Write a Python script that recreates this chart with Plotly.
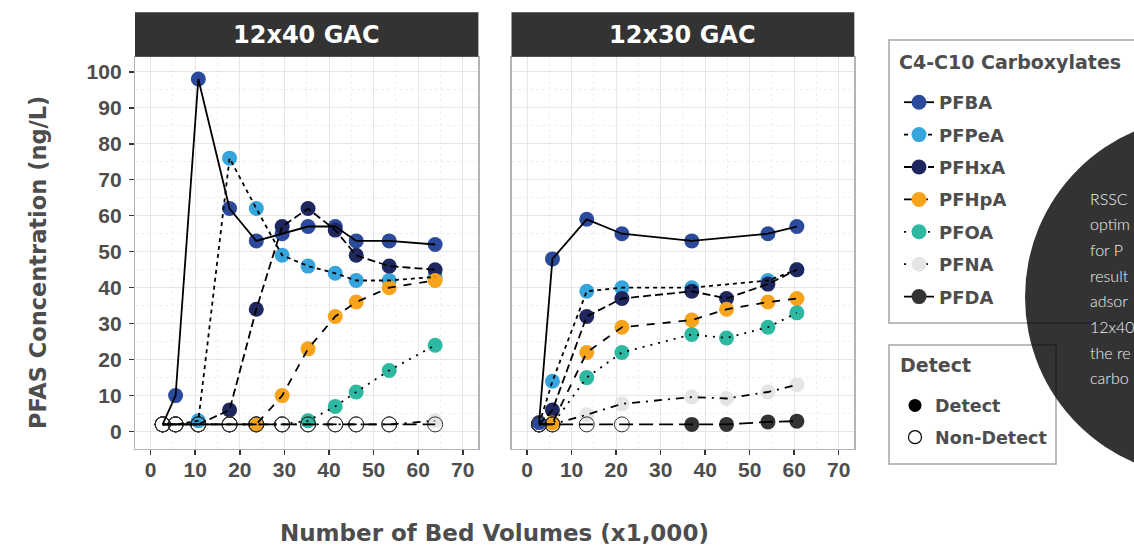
import plotly.graph_objects as go

W, H = 1134, 546

# ---------------- data ----------------
compounds = ["PFBA", "PFPeA", "PFHxA", "PFHpA", "PFOA", "PFNA", "PFDA"]
colors = ["#2C4A9C", "#35A5DC", "#1F275F", "#F7A31C", "#2CB8A1", "#E5E5E5", "#333333"]
dashes = ["solid", "4px,4px", "8px,4px", "8px,8px", "2px,6px", "2px,6px,8px,6px", "14px,6px"]

ND = "ND"            # non-detect
ND_PLOT_VALUE = 2    # value at which non-detects are plotted

panels = ["12x40 GAC", "12x30 GAC"]

bv_12x40 = [2.7, 5.6, 10.7, 17.7, 23.7, 29.5, 35.3, 41.4, 46.1, 53.5, 63.8]
pfba_12x40 = [ND, 10, 98, 62, 53, 55, 57, 57, 53, 53, 52]
pfpea_12x40 = [ND, ND, 3, 76, 62, 49, 46, 44, 42, 42, 43]
pfhxa_12x40 = [ND, ND, ND, 6, 34, 57, 62, 56, 49, 46, 45]
pfhpa_12x40 = [ND, ND, ND, ND, 2, 10, 23, 32, 36, 40, 42]
pfoa_12x40 = [ND, ND, ND, ND, ND, ND, 3, 7, 11, 17, 24]
pfna_12x40 = [ND, ND, ND, ND, ND, ND, ND, ND, ND, ND, 3]
pfda_12x40 = [ND, ND, ND, ND, ND, ND, ND, ND, ND, ND, ND]

bv_12x30 = [2.7, 5.7, 13.4, 21.3, 37.0, 44.8, 54.1, 60.6]
pfba_12x30 = [2.5, 48, 59, 55, 53, None, 55, 57]
pfpea_12x30 = [ND, 14, 39, 40, 40, None, 42, 45]
pfhxa_12x30 = [ND, 6, 32, 37, 39, 37, 41, 45]
pfhpa_12x30 = [ND, 2.4, 22, 29, 31, 34, 36, 37]
pfoa_12x30 = [ND, ND, 15, 22, 27, 26, 29, 33]
pfna_12x30 = [ND, ND, 4.7, 7.7, 9.6, 9.2, 11, 13]
pfda_12x30 = [ND, ND, ND, ND, 2, 2, 2.7, 2.9]

x_ticks = [0, 10, 20, 30, 40, 50, 60, 70]
y_ticks = [0, 10, 20, 30, 40, 50, 60, 70, 80, 90, 100]

detect_labels = ["Detect", "Non-Detect"]
circle_lines = ["RSSC", "optim", "for P", "result", "adsor", "12x40", "the re", "carbo"]

panel_data = [
    (bv_12x40, [pfba_12x40, pfpea_12x40, pfhxa_12x40, pfhpa_12x40, pfoa_12x40, pfna_12x40, pfda_12x40]),
    (bv_12x30, [pfba_12x30, pfpea_12x30, pfhxa_12x30, pfhpa_12x30, pfoa_12x30, pfna_12x30, pfda_12x30]),
]

# ---------------- style ----------------
TITLE_FONT = "DejaVu Sans"
TICK_FONT = "Liberation Sans"
TXT = "#4D4D4D"
MS = 15
LW = 1.8


def px(x):
    return x / W


def py(y):
    return 1 - y / H


fig = go.Figure()

axis_ids = [("x", "y"), ("x2", "y2")]
for (bv, series), (xa, ya) in zip(panel_data, axis_ids):
    # detected points
    for name, col, vals in zip(compounds, colors, series):
        xs = [b for b, v in zip(bv, vals) if v is not None and v != ND]
        ys = [v for v in vals if v is not None and v != ND]
        fig.add_trace(go.Scatter(x=xs, y=ys, mode="markers", xaxis=xa, yaxis=ya,
                                 marker=dict(size=MS, color=col, line=dict(width=0)),
                                 showlegend=False, hoverinfo="skip"))
    # non-detects
    ndx, ndy = [], []
    for vals in series:
        for b, v in zip(bv, vals):
            if v == ND:
                ndx.append(b)
                ndy.append(ND_PLOT_VALUE)
    fig.add_trace(go.Scatter(x=ndx, y=ndy, mode="markers", xaxis=xa, yaxis=ya,
                             marker=dict(size=MS, symbol="circle-open", color="#333333",
                                         line=dict(width=1)),
                             showlegend=False, hoverinfo="skip"))
    # lines (drawn above the points)
    for name, dash, vals in zip(compounds, dashes, series):
        xs = [b for b, v in zip(bv, vals) if v is not None]
        ys = [ND_PLOT_VALUE if v == ND else v for v in vals if v is not None]
        fig.add_trace(go.Scatter(x=xs, y=ys, mode="lines", xaxis=xa, yaxis=ya,
                                 line=dict(color="black", width=LW, dash=dash),
                                 showlegend=False, hoverinfo="skip"))

# legend entries
for name, col, dash in zip(compounds, colors, dashes):
    fig.add_trace(go.Scatter(x=[None], y=[None], mode="lines+markers", name=name,
                             legend="legend", legendgroup=name,
                             marker=dict(size=MS, color=col),
                             line=dict(color="black", width=LW, dash=dash)))
fig.add_trace(go.Scatter(x=[None], y=[None], mode="markers", name=detect_labels[0], legend="legend2",
                         legendgroup="d", marker=dict(size=13, color="black")))
fig.add_trace(go.Scatter(x=[None], y=[None], mode="markers", name=detect_labels[1], legend="legend2",
                         legendgroup="nd",
                         marker=dict(size=13, symbol="circle-open", color="black", line=dict(width=1.2))))

x_range = [-3.5, 73.5]
y_range = [-4.7, 104.2]
ydom = [py(448.5), py(56.7)]

common_x = dict(range=x_range, tickvals=x_ticks, showgrid=True, gridcolor="#E6E6E6", gridwidth=1,
                minor=dict(tickvals=[5, 15, 25, 35, 45, 55, 65], showgrid=True, gridcolor="#EFEFEF",
                           gridwidth=1, griddash="dot", ticks=""),
                zeroline=False, showline=True, mirror=True, linecolor="#B3B3B3", linewidth=1.2,
                ticks="outside", ticklen=5, tickwidth=1.5, tickcolor="#333333",
                ticklabelstandoff=-3,
                tickfont=dict(family=TICK_FONT, size=21, color=TXT, weight="bold"))
common_y = dict(range=y_range, domain=ydom, tickvals=y_ticks, showgrid=True, gridcolor="#E6E6E6",
                gridwidth=1,
                minor=dict(tickvals=[5, 15, 25, 35, 45, 55, 65, 75, 85, 95], showgrid=True,
                           gridcolor="#EFEFEF", gridwidth=1, griddash="dot", ticks=""),
                zeroline=False, showline=True, mirror=True, linecolor="#B3B3B3", linewidth=1.2,
                tickfont=dict(family=TICK_FONT, size=21, color=TXT, weight="bold"))

legend_common = dict(xanchor="left", yanchor="top", bgcolor="rgba(0,0,0,0)", borderwidth=0,
                     tracegroupgap=6, itemclick=False, itemdoubleclick=False,
                     font=dict(family=TITLE_FONT, size=18, color=TXT, weight="bold"))

fig.update_layout(
    width=W, height=H, autosize=False,
    margin=dict(l=0, r=0, t=0, b=0),
    paper_bgcolor="white", plot_bgcolor="white",
    xaxis=dict(common_x, domain=[px(135), px(478.4)], anchor="y"),
    xaxis2=dict(common_x, domain=[px(511.5), px(854.3)], anchor="y2"),
    yaxis=dict(common_y, anchor="x", ticks="outside", ticklen=5, tickwidth=1.5, tickcolor="#333333",
               ticklabelstandoff=3),
    yaxis2=dict(common_y, anchor="x2", showticklabels=False, ticks=""),
    legend=dict(legend_common, x=px(899), y=py(84)),
    legend2=dict(legend_common, x=px(895), y=py(387.5),
                 font=dict(family=TITLE_FONT, size=17.5, color=TXT, weight="bold")),
    showlegend=True,
)

shapes = []
# strips
for xa in ["x", "x2"]:
    shapes.append(dict(type="rect", xref=f"{xa} domain", yref="paper", x0=0, x1=1,
                       y0=py(56.7), y1=py(12.3), fillcolor="#333333", line=dict(width=0),
                       layer="above"))
# legend boxes
shapes.append(dict(type="rect", xref="paper", yref="paper", x0=px(889), x1=px(1150),
                   y0=py(323), y1=py(40), line=dict(color="#A6A6A6", width=1.5),
                   fillcolor="rgba(0,0,0,0)", layer="above"))
shapes.append(dict(type="rect", xref="paper", yref="paper", x0=px(889), x1=px(1056),
                   y0=py(464), y1=py(345), line=dict(color="#A6A6A6", width=1.5),
                   fillcolor="rgba(0,0,0,0)", layer="above"))
# overlapping dark circle
cx, cy, r = 1205, 297, 180
shapes.append(dict(type="circle", xref="paper", yref="paper", x0=px(cx - r), x1=px(cx + r),
                   y0=py(cy + r), y1=py(cy - r), fillcolor="rgba(0,0,0,0.8)",
                   line=dict(width=0), layer="above"))
fig.update_layout(shapes=shapes)

annotations = []
for name, xa in zip(panels, ["x", "x2"]):
    annotations.append(dict(text=name, xref=f"{xa} domain", yref="paper", x=0.5, y=py(34.5),
                            xanchor="center", yanchor="middle", showarrow=False,
                            font=dict(family=TITLE_FONT, size=24, color="white", weight="bold")))
annotations.append(dict(text="PFAS Concentration (ng/L)", xref="paper", yref="paper",
                        x=px(38), y=py(263), textangle=-90, xanchor="center", yanchor="middle",
                        showarrow=False,
                        font=dict(family=TITLE_FONT, size=22.5, color=TXT, weight="bold")))
annotations.append(dict(text="Number of Bed Volumes (x1,000)", xref="paper", yref="paper",
                        x=px(494.5), y=py(533), xanchor="center", yanchor="middle", showarrow=False,
                        font=dict(family=TITLE_FONT, size=23, color=TXT, weight="bold")))
# legend titles
annotations.append(dict(text="C4-C10 Carboxylates", xref="paper", yref="paper", x=px(897),
                        y=py(61.5), xanchor="left", yanchor="middle", showarrow=False,
                        font=dict(family=TITLE_FONT, size=19, color=TXT, weight="bold")))
annotations.append(dict(text="Detect", xref="paper", yref="paper", x=px(898),
                        y=py(365), xanchor="left", yanchor="middle", showarrow=False,
                        font=dict(family=TITLE_FONT, size=19, color=TXT, weight="bold")))

for i, t in enumerate(circle_lines):
    annotations.append(dict(text=t, xref="paper", yref="paper", x=px(1088), y=py(198 + 25.7 * i),
                            xanchor="left", yanchor="middle", showarrow=False,
                            font=dict(family="Lato", size=16, color="#F2F2F2", weight=300)))
fig.update_layout(annotations=annotations)

fig.write_html("out.html", config={"displayModeBar": False, "staticPlot": True},
               post_script="document.body.style.margin='0px';")
